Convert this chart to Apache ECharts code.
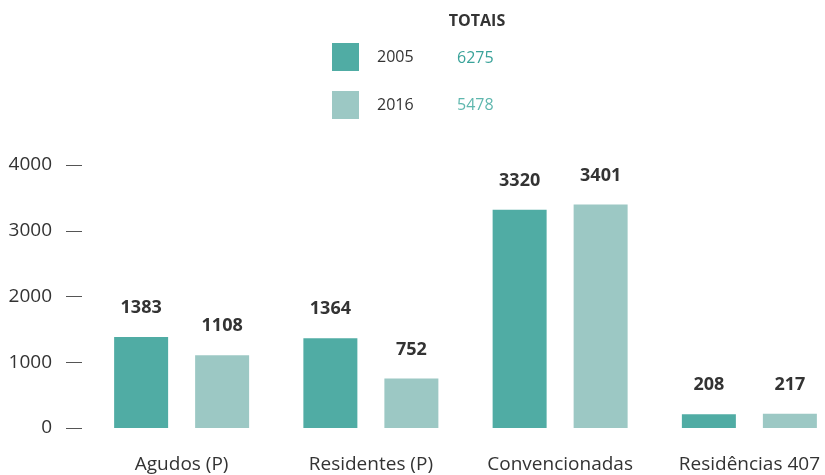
<!DOCTYPE html>
<html>
<head>
<meta charset="utf-8">
<script src="https://cdn.jsdelivr.net/npm/echarts@6/dist/echarts.min.js"></script>
<style>
html,body{margin:0;padding:0;background:#fff;}
#chart{width:825px;height:475px;}
</style>
</head>
<body>
<div id="chart"></div>
<script>
const categories = ['Agudos (P)', 'Residentes (P)', 'Convencionadas', 'Residências 407'];
const years = ['2005', '2016'];
const values2005 = [1383, 1364, 3320, 208];
const values2016 = [1108, 752, 3401, 217];
const totals = [6275, 5478];
const yTicks = [0, 1000, 2000, 3000, 4000];

const colors = ['#50aca4', '#9cc8c4'];
const totalColors = ['#3aa39a', '#5fb7ae'];
const FONT = '"Open Sans", "Noto Sans", sans-serif';

const chart = echarts.init(document.getElementById('chart'), null, {renderer: 'canvas'});

const labelStyle = {
  show: true, position: 'top', distance: 20,
  fontFamily: FONT, fontWeight: 'bold', fontSize: 18, color: '#333'
};

chart.setOption({
  animation: false,
  textStyle: {fontFamily: FONT},
  legend: {
    data: years,
    orient: 'vertical',
    left: 332, top: 43,
    padding: 0,
    itemWidth: 27, itemHeight: 28,
    itemGap: 20,
    icon: 'rect',
    textStyle: {fontFamily: FONT, fontSize: 16, color: '#333', padding: [0, 0, 0, 13]},
    selectedMode: false
  },
  graphic: [
    {type: 'text', style: {x: 477, y: 21, text: 'TOTAIS', font: 'bold 16px ' + FONT, fill: '#333', textAlign: 'center', textVerticalAlign: 'middle'}},
    {type: 'text', style: {x: 457, y: 58, text: String(totals[0]), font: '16px ' + FONT, fill: totalColors[0], textAlign: 'left', textVerticalAlign: 'middle'}},
    {type: 'text', style: {x: 457, y: 105.5, text: String(totals[1]), font: '16px ' + FONT, fill: totalColors[1], textAlign: 'left', textVerticalAlign: 'middle'}}
  ],
  grid: {left: 87, right: -19, top: 165, bottom: 47, containLabel: false, outerBoundsMode: 'none'},
  xAxis: {
    type: 'category',
    data: categories,
    axisLine: {show: false},
    axisTick: {show: false},
    axisLabel: {interval: 0, margin: 27, fontFamily: FONT, fontSize: 19, color: '#333'}
  },
  yAxis: {
    type: 'value',
    min: yTicks[0], max: yTicks[yTicks.length - 1], interval: 1000,
    offset: 5,
    splitLine: {show: false},
    axisLine: {show: false},
    axisTick: {show: true, length: 16, lineStyle: {color: '#555', width: 1}},
    axisLabel: {margin: 30, fontFamily: FONT, fontSize: 19, color: '#333', formatter: v => String(v)}
  },
  series: [
    {name: years[0], type: 'bar', data: values2005, barWidth: 54, barGap: '50%',
     itemStyle: {color: colors[0]}, label: labelStyle},
    {name: years[1], type: 'bar', data: values2016, barWidth: 54, barGap: '50%',
     itemStyle: {color: colors[1]}, label: labelStyle}
  ]
});
</script>
</body>
</html>
